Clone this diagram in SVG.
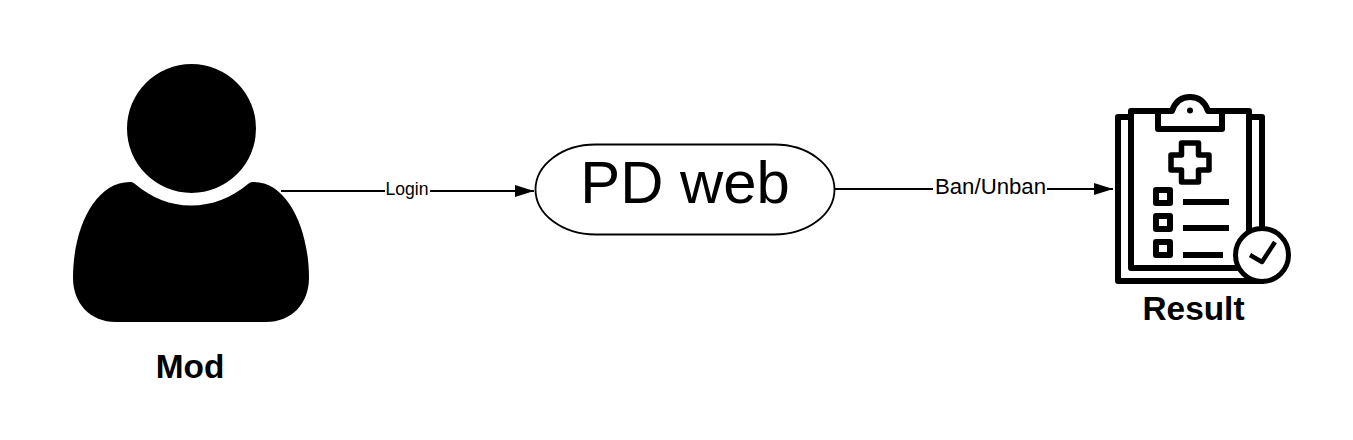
<svg xmlns="http://www.w3.org/2000/svg" width="1353" height="440" viewBox="0 0 1353 440">
<style>
text{font-family:"Liberation Sans",Arial,sans-serif;fill:#000;text-anchor:middle}
.title{font-size:33.400px;font-weight:700}
.edge{stroke:#000;stroke-width:2;fill:none;marker-end:url(#arrow)}
.edgelabel{fill:#fff;stroke:none}
.ink{fill:none;stroke:#000;stroke-width:6;stroke-linejoin:round}
.bar{stroke:#000;stroke-width:6;fill:none}
</style>
<defs>
<marker id="arrow" markerUnits="userSpaceOnUse" markerWidth="20" markerHeight="14" refX="19" refY="6" orient="auto">
<path d="M0 0L19 6L0 12Z" fill="#000"/>
</marker>
</defs>
<rect width="1353" height="440" fill="#fff"/>
<g id="connectors">
<path class="edge" d="M281 191H534"/>
<path class="edge" d="M835 189H1113"/>
<rect class="edgelabel" x="385" y="178" width="45" height="24"/>
<text x="407" y="195" font-size="17.600">Login</text>
<rect class="edgelabel" x="933" y="175" width="114" height="26"/>
<text x="990.500" y="194" font-size="22.200">Ban/Unban</text>
</g>
<g id="mod">
<circle cx="191.500" cy="128.500" r="64.500" fill="#000"/>
<path fill="#000" d="M130 182C132 182 133 182.500 135 184C152 198 170 205.500 191 205.500C212 205.500 231 198 248 184C250 182.500 251 182 254 182C287 182 309 228 309 278C309 303 292 322 266 322H116C90 322 73 303 73 278C73 228 95 182 130 182Z"/>
<text class="title" x="190" y="378">Mod</text>
</g>
<g id="pdweb">
<rect x="535.500" y="144.500" width="299" height="90" rx="60" ry="45" fill="#fff" stroke="#000" stroke-width="1.800"/>
<text x="685" y="203" font-size="59.800">PD web</text>
</g>
<g id="result">
<path class="ink" d="M1128 117H1118V281H1262V117H1252"/>
<path class="ink" d="M1131 111H1249V268H1131Z"/>
<path class="ink" d="M1158 111H1172C1175 102 1181 97 1190 97C1199 97 1205 102 1208 111H1222V129H1158Z" style="fill:#fff"/>
<circle cx="1190" cy="110.500" r="3" fill="#000"/>
<path class="ink" style="stroke-width:5.500" d="M1181.500 143H1198.500V155H1209V170H1198.500V182H1181.500V170H1171V155H1181.500Z"/>
<rect class="ink" x="1156" y="190" width="14" height="13"/>
<rect class="ink" x="1156" y="216" width="14" height="13"/>
<rect class="ink" x="1156" y="242" width="14" height="13"/>
<path class="bar" d="M1183 202H1229M1183 228H1229M1183 255H1223"/>
<circle cx="1262" cy="255" r="26.500" fill="#fff" stroke="#000" stroke-width="5"/>
<path d="M1250 255L1262 262L1275 242" fill="none" stroke="#000" stroke-width="4.500" stroke-linejoin="round"/>
<text class="title" x="1193.500" y="320">Result</text>
</g>
</svg>
